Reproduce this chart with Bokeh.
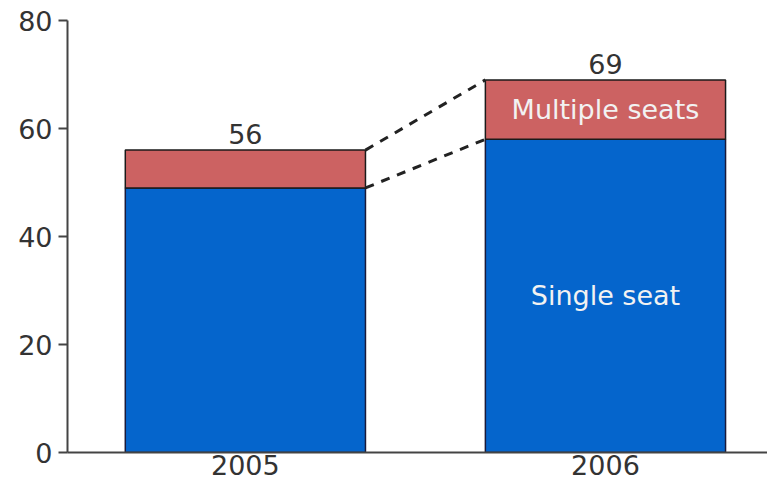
from bokeh.plotting import figure
from bokeh.models import ColumnDataSource, Range1d, FixedTicker, LabelSet
from bokeh.core.properties import value
from bokeh.embed import file_html
from bokeh.resources import INLINE

years = ["2005", "2006"]
single_seat = [49, 58]
multiple_seats = [7, 11]
totals = [56, 69]
y_ticks = [0, 20, 40, 60, 80]

xpos = [1, 2]
bar_w = 0.667
tops_single = single_seat
tops_total = [s + m for s, m in zip(single_seat, multiple_seats)]

FONT = "DejaVu Sans"
BLUE = "#0565CC"
RED = "#CC6262"

p = figure(width=767, height=489, output_backend="svg", toolbar_location=None,
           x_range=Range1d(0.506, 2.45), y_range=Range1d(0, 80),
           min_border_left=67, min_border_right=0, min_border_top=20, min_border_bottom=37)
p.outline_line_color = None
p.xgrid.visible = False
p.ygrid.visible = False
p.background_fill_color = "white"

src = ColumnDataSource(dict(x=xpos, single=single_seat, total=tops_total,
                            lab=[str(t) for t in totals]))

p.vbar(x="x", width=bar_w, bottom=0, top="single", source=src,
       fill_color=BLUE, line_color="#1a1a3a", line_width=1.5)
p.vbar(x="x", width=bar_w, bottom="single", top="total", source=src,
       fill_color=RED, line_color="#1a1a1a", line_width=1.5)

# dashed connectors
p.line([xpos[0] + bar_w / 2, xpos[1] - bar_w / 2], [tops_total[0], tops_total[1]],
       line_dash="9 8", line_width=3, line_color="#222222")
p.line([xpos[0] + bar_w / 2, xpos[1] - bar_w / 2], [tops_single[0], tops_single[1]],
       line_dash="9 8", line_width=3, line_color="#222222")

p.add_layout(LabelSet(x="x", y="total", text="lab", source=src, text_align="center",
                      text_baseline="bottom", y_offset=6, text_font=value(FONT),
                      text_font_size="27px", text_color="#333333"))

inner = ColumnDataSource(dict(x=[xpos[1], xpos[1]],
                              y=[single_seat[1] + multiple_seats[1] / 2, single_seat[1] / 2],
                              t=["Multiple seats", "Single seat"]))
p.add_layout(LabelSet(x="x", y="y", text="t", source=inner, text_align="center",
                      text_baseline="middle", text_font=value(FONT),
                      text_font_size="27px", text_color="#F2F2F2"))

p.yaxis.ticker = FixedTicker(ticks=y_ticks)
p.yaxis.major_label_text_font = FONT
p.yaxis.major_label_text_font_size = "27px"
p.yaxis.major_label_text_color = "#333333"
p.yaxis.axis_line_width = 2
p.yaxis.axis_line_color = "#444444"
p.yaxis.major_tick_line_width = 2
p.yaxis.major_tick_line_color = "#444444"
p.yaxis.major_tick_out = 9
p.yaxis.major_tick_in = 0
p.yaxis.minor_tick_line_color = None
p.yaxis.major_label_standoff = 6

p.xaxis.ticker = FixedTicker(ticks=xpos)
p.xaxis.major_label_overrides = {x: y for x, y in zip(xpos, years)}
p.xaxis.major_label_text_font = FONT
p.xaxis.major_label_text_font_size = "27px"
p.xaxis.major_label_text_color = "#333333"
p.xaxis.axis_line_width = 2
p.xaxis.axis_line_color = "#444444"
p.xaxis.major_tick_line_color = None
p.xaxis.major_tick_out = 0
p.xaxis.minor_tick_line_color = None
p.xaxis.major_label_standoff = 2

open("out.html", "w").write(file_html(p, INLINE))
